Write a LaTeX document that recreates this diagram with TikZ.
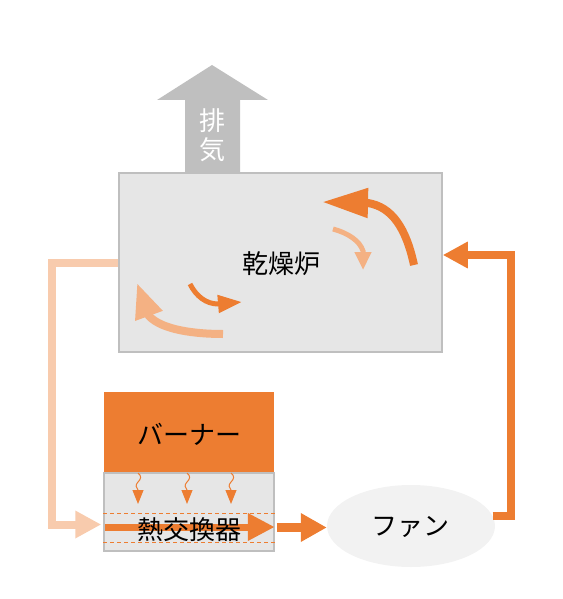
\documentclass[tikz,border=0pt]{standalone}
\usepackage{fontspec}
\newfontfamily\jp{Noto Sans CJK JP}
\usetikzlibrary{arrows.meta,calc,shapes.geometric}
\definecolor{orng}{HTML}{ED7D31}
\definecolor{peach}{HTML}{F8CBAD}
\definecolor{lorng}{HTML}{F4B183}
\definecolor{boxgray}{HTML}{E6E6E6}
\definecolor{edgegray}{HTML}{BFBFBF}
\definecolor{fangray}{HTML}{F2F2F2}
\tikzset{
  jtext/.style={font=\jp\fontsize{26}{30}\selectfont, text=black, inner sep=0pt},
  graybox/.style={rectangle, fill=boxgray, draw=edgegray, line width=1.5pt, inner sep=0pt},
  pipe/.style={line width=8pt, orng, line join=miter},
  heatwave/.style={line width=1pt, orng, -{Triangle[length=14pt,width=11pt]}},
}
\begin{document}
\begin{tikzpicture}[x=1pt,y=-1pt]
\useasboundingbox (0,0) rectangle (562,599);
% exhaust arrow
\fill[edgegray] (185,176) -- (185,100) -- (157,100) -- (212,65) -- (268,100) -- (240,100) -- (240,176) -- cycle;
\node[jtext, text=white] (ex1) at (212,121) {排};
\node[jtext, text=white] (ex2) at (212,150) {気};
% furnace
\node[graybox, minimum width=323pt, minimum height=179pt] (furnace) at (280.5,262.5) {};
\node[jtext] (furnacelabel) at (281,264) {乾燥炉};
% circulation arrows
\draw[line width=8pt, orng, -{Triangle[length=46pt,width=28pt]}]
  (414,265) .. controls (406,228) and (392,207) .. (368,203) -- (322,202);
\draw[line width=5pt, lorng, -{Triangle[length=18pt,width=16pt]}]
  (333,229) .. controls (348,233) and (360,241) .. (363,251) -- (363,270);
\draw[line width=5pt, orng, -{Triangle[length=24pt,width=17pt]}]
  (190,284) .. controls (196,296) and (206,304) .. (218,304) -- (242,302);
\draw[line width=8pt, lorng, -{Triangle[length=35pt,width=27pt]}]
  (223,334) .. controls (195,334) and (162,330) .. (149,316) -- (137,283);
% burner and heat exchanger
\node[rectangle, fill=orng, minimum width=170pt, minimum height=81pt, inner sep=0pt] (burner) at (189,432.5) {};
\node[jtext] (burnerlabel) at (189,434) {バーナー};
\node[graybox, minimum width=170pt, minimum height=78pt] (hx) at (189,512) {};
\foreach \xx in {138,187,231} {
  \draw[heatwave] (\xx,473) .. controls (\xx+4,476) and (\xx+3,479) .. (\xx,482)
     .. controls (\xx-3,485) and (\xx-2,488) .. (\xx,490) -- (\xx,504);
}
\draw[orng, line width=0.8pt, dash pattern=on 4pt off 3pt] (hx.west |- 0,513) -- (hx.east |- 0,513);
\draw[orng, line width=0.8pt, dash pattern=on 4pt off 3pt] (hx.west |- 0,542) -- (hx.east |- 0,542);
\coordinate (hxin) at (105,527);
\draw[line width=7pt, orng, -{Triangle[length=27pt,width=26pt]}] (hxin) -- (hxin -| hx.east);
\node[jtext] (hxlabel) at (189,530) {熱交換器};
% fan
\node[ellipse, fill=fangray, minimum width=168pt, minimum height=82pt, inner sep=0pt] (fan) at (411,526) {};
\node[jtext] (fanlabel) at (410,527) {ファン};
% hx -> fan
\draw[line width=9pt, orng, -{Triangle[length=26pt,width=27pt]}] ($(hx.east)+(2,15.5)$) -- (fan.west |- 0,527.5);
% fan -> furnace
\coordinate (rtop) at (511,255);
\draw[pipe, -{Triangle[length=25pt,width=25pt]}] (fan.7) -| (rtop) -- (rtop -| furnace.east);
% furnace -> hx
\coordinate (lbot) at (52,524.5);
\draw[pipe, peach, -{Triangle[length=26pt,width=26pt]}] (furnace.west) -| (lbot) -- ($(lbot -| hx.west)+(-2,0)$);
\end{tikzpicture}
\end{document}
